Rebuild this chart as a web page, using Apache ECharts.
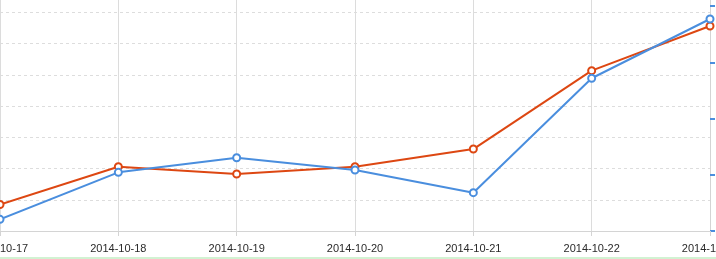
<!DOCTYPE html>
<html>
<head>
<meta charset="utf-8">
<script src="https://cdn.jsdelivr.net/npm/echarts@6/dist/echarts.min.js"></script>
<style>
html,body{margin:0;padding:0;background:#fff;}
#c{width:716px;height:259px;}
</style>
</head>
<body>
<div id="c"></div>
<script>
const categories = ['2014-10-17','2014-10-18','2014-10-19','2014-10-20','2014-10-21','2014-10-22','2014-10-23'];
const orangeValues = [17, 41.2, 36.5, 41.2, 52.5, 102.7, 131.3];
const blueValues = [10.4, 52.2, 65.2, 54.3, 34.1, 135.9, 188.6];

const chart = echarts.init(document.getElementById('c'), null, {renderer:'canvas'});
chart.setOption({
  animation: false,
  backgroundColor: '#fff',
  grid: { left: 0, right: 6, top: -50, bottom: 28, containLabel: false, outerBoundsMode: 'none' },
  xAxis: {
    type: 'category',
    data: categories,
    boundaryGap: false,
    axisLine: { lineStyle: { color: '#d4d4d4', width: 1 } },
    axisTick: { show: true, length: 5, lineStyle: { color: '#d4d4d4' } },
    axisLabel: { color: '#2a2a2a', fontSize: 11, fontFamily: 'Liberation Sans, Arial, sans-serif', margin: 12, interval: 0, hideOverlap: false },
    splitLine: { show: true, lineStyle: { color: '#dcdcdc', width: 1 } }
  },
  yAxis: [
    {
      type: 'value', position: 'left', min: 0, max: 180, interval: 20,
      axisLine: { show: false }, axisTick: { show: false }, axisLabel: { show: false },
      splitLine: { show: true, lineStyle: { color: '#dddddd', type: [3, 3], width: 1 } }
    },
    {
      type: 'value', position: 'right', min: 0, max: 250, interval: 50,
      axisLine: { show: true, lineStyle: { color: '#d4d4d4' } },
      axisTick: { show: true, inside: false, length: 5, lineStyle: { color: '#4a8ede', width: 2 } },
      axisLabel: { show: false },
      splitLine: { show: false }
    }
  ],
  series: [
    {
      name: 'orange', type: 'line', yAxisIndex: 0, data: orangeValues,
      symbol: 'emptyCircle', symbolSize: 7,
      lineStyle: { color: '#dd4712', width: 2 },
      itemStyle: { color: '#dd4712', borderWidth: 1.5 }
    },
    {
      name: 'blue', type: 'line', yAxisIndex: 1, data: blueValues,
      symbol: 'emptyCircle', symbolSize: 7,
      lineStyle: { color: '#4a8ede', width: 2 },
      itemStyle: { color: '#4a8ede', borderWidth: 1.5 }
    }
  ],
  graphic: [
    { type: 'rect', left: 0, top: 257, shape: { width: 716, height: 2 }, style: { fill: '#d2f2d2' } }
  ]
});
</script>
</body>
</html>
